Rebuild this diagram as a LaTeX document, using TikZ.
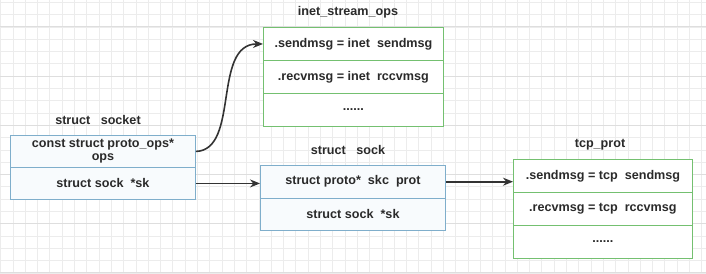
\documentclass[tikz,border=0pt]{standalone}
\usepackage{fontspec}
\setmainfont{Liberation Sans}
\usetikzlibrary{arrows.meta}
\definecolor{gridc}{HTML}{ECECEC}
\definecolor{gridm}{HTML}{DEDEDE}
\definecolor{bluebd}{HTML}{7FAECB}
\definecolor{bluefill}{HTML}{F8FBFD}
\definecolor{greenbd}{HTML}{74C070}
\definecolor{arrowc}{HTML}{333333}
\definecolor{txt}{HTML}{2A2A2A}
\tikzset{
  every node/.style={font=\fontsize{12.6}{14}\selectfont\bfseries, text=txt},
  bluerow/.style={draw=bluebd, fill=bluefill, line width=0.9pt, rectangle, anchor=north west, inner sep=0pt, align=center},
  greenrow/.style={draw=greenbd, fill=white, line width=0.9pt, rectangle, anchor=north west, inner sep=0pt, align=center},
  title/.style={anchor=center, inner sep=0pt},
  conn/.style={draw=arrowc, line width=1.6pt, -{Stealth[length=10pt,width=8pt]}},
}
\begin{document}
\begin{tikzpicture}[x=1pt,y=-1pt]
\useasboundingbox (0,0) rectangle (706,273);
\fill[white] (0,0) rectangle (706,273);
% grid
\foreach \i in {0,...,57} {
  \draw[gridc, line width=0.4pt] ({0.4+12.3*\i},0) -- ({0.4+12.3*\i},273);
}
\foreach \j in {0,...,22} {
  \draw[gridc, line width=0.4pt] (0,{2.1+12.3*\j}) -- (706,{2.1+12.3*\j});
}
\foreach \j in {0,...,5} {
  \draw[gridm, line width=0.5pt] (0,{26.7+49.2*\j}) -- (706,{26.7+49.2*\j});
}

% struct socket
\node[title] (tsocket) at (98,120) {struct\ \ \ socket};
\node[bluerow, minimum width=185pt, minimum height=32pt] (sockops) at (10,135) {const struct proto\_ops*\\[-1pt]ops};
\node[bluerow, minimum width=185pt, minimum height=32pt] (socksk) at (10,167) {struct sock\ \ *sk};

% inet_stream_ops
\node[title] (tinet) at (348,12) {inet\_stream\_ops};
\node[greenrow, minimum width=180pt, minimum height=33pt] (inet1) at (263,27) {.sendmsg = inet\ \ sendmsg};
\node[greenrow, minimum width=180pt, minimum height=33pt] (inet2) at (263,60) {.recvmsg = inet\ \ rccvmsg};
\node[greenrow, minimum width=180pt, minimum height=33pt] (inet3) at (263,93) {......};

% struct sock
\node[title] (tsock) at (348,150) {struct\ \ \ sock};
\node[bluerow, minimum width=185pt, minimum height=32.5pt] (skprot) at (260,165) {struct proto*\ \ skc\ \ prot};
\node[bluerow, minimum width=185pt, minimum height=32.5pt] (sksk) at (260,197.5) {struct sock\ \ *sk};

% tcp_prot
\node[title] (ttcp) at (600,145) {tcp\_prot};
\node[greenrow, minimum width=179pt, minimum height=33pt] (tcp1) at (513,159) {.sendmsg = tcp\ \ sendmsg};
\node[greenrow, minimum width=179pt, minimum height=33pt] (tcp2) at (513,192) {.recvmsg = tcp\ \ rccvmsg};
\node[greenrow, minimum width=179pt, minimum height=33pt] (tcp3) at (513,225) {......};

% connectors
\draw[conn] (sockops.east) .. controls (240,150) and (212,44) .. (inet1.west);
\draw[conn] (socksk.east) -- (socksk.east -| skprot.west);
\draw[conn] (skprot.east) -- (skprot.east -| tcp1.west);
\end{tikzpicture}
\end{document}
